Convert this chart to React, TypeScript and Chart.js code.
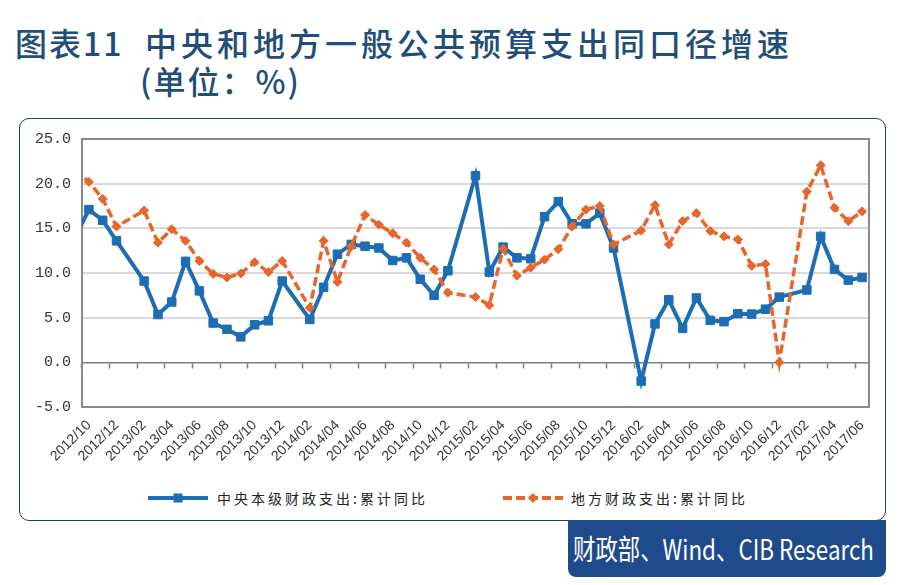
import React, { useEffect, useRef } from "react";
import { Chart, registerables } from "chart.js";

Chart.register(...registerables);

// Monthly categories; the first one (2012/09) lies just outside the visible range (line enters from the left edge)
const months = [
  "2012/09", "2012/10", "2012/11", "2012/12",
  "2013/01", "2013/02", "2013/03", "2013/04", "2013/05", "2013/06", "2013/07", "2013/08", "2013/09", "2013/10", "2013/11", "2013/12",
  "2014/01", "2014/02", "2014/03", "2014/04", "2014/05", "2014/06", "2014/07", "2014/08", "2014/09", "2014/10", "2014/11", "2014/12",
  "2015/01", "2015/02", "2015/03", "2015/04", "2015/05", "2015/06", "2015/07", "2015/08", "2015/09", "2015/10", "2015/11", "2015/12",
  "2016/01", "2016/02", "2016/03", "2016/04", "2016/05", "2016/06", "2016/07", "2016/08", "2016/09", "2016/10", "2016/11", "2016/12",
  "2017/01", "2017/02", "2017/03", "2017/04", "2017/05", "2017/06",
];

const tickLabels = [
  "2012/10", "2012/12", "2013/02", "2013/04", "2013/06", "2013/08", "2013/10", "2013/12",
  "2014/02", "2014/04", "2014/06", "2014/08", "2014/10", "2014/12",
  "2015/02", "2015/04", "2015/06", "2015/08", "2015/10", "2015/12",
  "2016/02", "2016/04", "2016/06", "2016/08", "2016/10", "2016/12",
  "2017/02", "2017/04", "2017/06",
];

// 中央本级财政支出:累计同比 (%)
const central = [
  14.0,
  17.1, 15.9, 13.6,
  null, 9.1, 5.35, 6.75, 11.3, 8.0, 4.4, 3.7, 2.85, 4.2, 4.65, 9.1,
  null, 4.8, 8.4, 12.1, 13.2, 13.0, 12.8, 11.4, 11.7, 9.3, 7.5, 10.25,
  null, 20.9, 10.1, 12.9, 11.7, 11.6, 16.3, 18.0, 15.5, 15.5, 16.7, 12.8,
  null, -2.1, 4.3, 7.0, 3.8, 7.2, 4.7, 4.55, 5.45, 5.4, 5.95, 7.3,
  null, 8.1, 14.1, 10.4, 9.2, 9.5,
];

// 地方财政支出:累计同比 (%)
const local = [
  21.6,
  20.2, 18.3, 15.2,
  null, 17.0, 13.4, 14.9, 13.6, 11.35, 9.9, 9.5, 9.95, 11.2, 10.1, 11.35,
  null, 6.1, 13.6, 9.0, 13.0, 16.5, 15.4, 14.45, 13.4, 11.7, 10.4, 7.8,
  null, 7.3, 6.4, 12.7, 9.7, 10.6, 11.5, 12.65, 15.2, 17.1, 17.5, 13.2,
  null, 14.75, 17.6, 13.2, 15.8, 16.7, 14.7, 14.1, 13.75, 10.8, 11.0, 0.0,
  null, 19.1, 22.05, 17.3, 15.8, 16.9,
];

const seriesNames = ["中央本级财政支出:累计同比", "地方财政支出:累计同比"];

const Y_MIN = -5;
const Y_MAX = 25;
const Y_STEP = 5;

const BLUE = "#1d6db4";
const ORANGE = "#e8652b";
const TITLE = "#1f4e79";

const plotBorder = {
  id: "plotBorder",
  beforeDatasetsDraw(chart: any) {
    const { ctx, chartArea: a } = chart;
    ctx.save();
    ctx.strokeStyle = "#8a8a8a";
    ctx.lineWidth = 2;
    ctx.strokeRect(a.left, a.top, a.right - a.left, a.bottom - a.top);
    ctx.restore();
  },
};

export default function App() {
  const ref = useRef<HTMLCanvasElement>(null);

  useEffect(() => {
    const canvas = ref.current!;
    const chart = new Chart(canvas, {
      type: "line",
      data: {
        labels: months,
        datasets: [
          {
            label: seriesNames[0],
            data: central,
            borderColor: BLUE,
            backgroundColor: BLUE,
            borderWidth: 4,
            pointStyle: "rect",
            pointRadius: 6,
            pointBorderWidth: 1,
            pointBorderColor: BLUE,
            pointBackgroundColor: BLUE,
            spanGaps: true,
            tension: 0,
            order: 1,
          },
          {
            label: seriesNames[1],
            data: local,
            borderColor: ORANGE,
            backgroundColor: ORANGE,
            borderWidth: 3.5,
            borderDash: [9, 4],
            pointStyle: "rectRot",
            pointRadius: 4.5,
            pointBorderWidth: 1,
            pointBorderColor: ORANGE,
            pointBackgroundColor: ORANGE,
            spanGaps: true,
            tension: 0,
            order: 0,
          },
        ],
      },
      options: {
        responsive: false,
        maintainAspectRatio: false,
        animation: false,
        devicePixelRatio: 1,
        layout: { padding: { left: 0, right: 15, top: 16, bottom: 0 } },
        plugins: { legend: { display: false }, tooltip: { enabled: false } },
        scales: {
          x: {
            type: "category",
            min: months[1],
            offset: true,
            position: "bottom",
            grid: { display: false, offset: true },
            border: { display: false },
            afterFit: (s: any) => {
              s.height = 64;
            },
            ticks: {
              autoSkip: false,
              minRotation: 45,
              maxRotation: 45,
              padding: 2,
              color: "#333",
              font: { family: "Liberation Sans", size: 14 },
              callback: (v: any) => {
                const l = months[v as number];
                return tickLabels.includes(l) ? l : "";
              },
            },
          },
          x2: {
            type: "category",
            min: months[1],
            offset: true,
            position: { y: 0 } as any,
            grid: {
              display: true,
              offset: true,
              drawOnChartArea: false,
              drawTicks: true,
              tickLength: 5,
              tickWidth: 1.5,
              tickColor: (ctx: any) =>
                ctx.tick && tickLabels.includes(months[ctx.tick.value]) ? "#7f7f7f" : "rgba(0,0,0,0)",
            },
            border: { display: true, color: "#7f7f7f", width: 1.5 },
            ticks: { display: false },
          },
          y: {
            type: "linear",
            min: Y_MIN,
            max: Y_MAX,
            afterFit: (s: any) => {
              s.width = 62;
            },
            grid: {
              drawTicks: false,
              lineWidth: 2,
              color: (ctx: any) =>
                ctx.tick && (ctx.tick.value === Y_MIN || ctx.tick.value === Y_MAX || ctx.tick.value === 0)
                  ? "rgba(0,0,0,0)"
                  : "#d9d9d9",
            },
            border: { display: false },
            ticks: {
              stepSize: Y_STEP,
              padding: 11,
              color: "#333",
              font: { family: "Liberation Mono", size: 15 },
              callback: (v: any) => Number(v).toFixed(1),
            },
          },
        },
      },
      plugins: [plotBorder],
    } as any);
    return () => chart.destroy();
  }, []);

  const titleBase: React.CSSProperties = {
    position: "absolute",
    fontSize: 32,
    lineHeight: "32px",
    color: TITLE,
    fontWeight: 500,
    whiteSpace: "nowrap",
  };

  const legendText: React.CSSProperties = {
    position: "absolute",
    top: 489,
    fontSize: 14,
    lineHeight: "18px",
    letterSpacing: 3,
    color: "#222",
    whiteSpace: "nowrap",
  };

  return (
    <div
      style={{
        position: "absolute",
        left: 0,
        top: 0,
        width: 900,
        height: 585,
        background: "#fff",
        overflow: "hidden",
        fontFamily: '"Noto Sans CJK SC", sans-serif',
      }}
    >
      <div style={{ ...titleBase, left: 15, top: 26, letterSpacing: 2 }}>图表11</div>
      <div style={{ ...titleBase, left: 145, top: 26, letterSpacing: 4 }}>中央和地方一般公共预算支出同口径增速</div>
      <div style={{ ...titleBase, left: 140, top: 64, letterSpacing: 2 }}>(单位：%)</div>

      <div
        style={{
          position: "absolute",
          left: 19,
          top: 118,
          width: 867,
          height: 403,
          border: "1.5px solid #234155",
          borderRadius: 10,
          boxSizing: "border-box",
        }}
      />

      <canvas
        ref={ref}
        width={864}
        height={352}
        style={{ position: "absolute", left: 20, top: 119, width: 864, height: 352 }}
      />

      <svg style={{ position: "absolute", left: 148, top: 492 }} width={60} height={12}>
        <line x1={0} y1={6} x2={60} y2={6} stroke={BLUE} strokeWidth={4} />
        <rect x={25.5} y={1.5} width={9} height={9} fill={BLUE} />
      </svg>
      <div style={{ ...legendText, left: 217 }}>{seriesNames[0]}</div>

      <svg style={{ position: "absolute", left: 503, top: 492 }} width={60} height={12}>
        <line x1={0} y1={6} x2={60} y2={6} stroke={ORANGE} strokeWidth={4} strokeDasharray="9 4" />
        <polygon points="30,1 35,6 30,11 25,6" fill={ORANGE} />
      </svg>
      <div style={{ ...legendText, left: 571 }}>{seriesNames[1]}</div>

      <div
        style={{
          position: "absolute",
          left: 568,
          top: 520,
          width: 318,
          height: 57,
          background: "#1f4b8c",
          borderRadius: "0 0 8px 8px",
          overflow: "hidden",
        }}
      >
        <div
          style={{
            position: "absolute",
            left: 5,
            top: 0,
            lineHeight: "57px",
            fontSize: 28,
            color: "#fff",
            whiteSpace: "nowrap",
            transform: "scaleX(0.8)",
            transformOrigin: "left center",
          }}
        >
          财政部、Wind、CIB Research
        </div>
      </div>
    </div>
  );
}
